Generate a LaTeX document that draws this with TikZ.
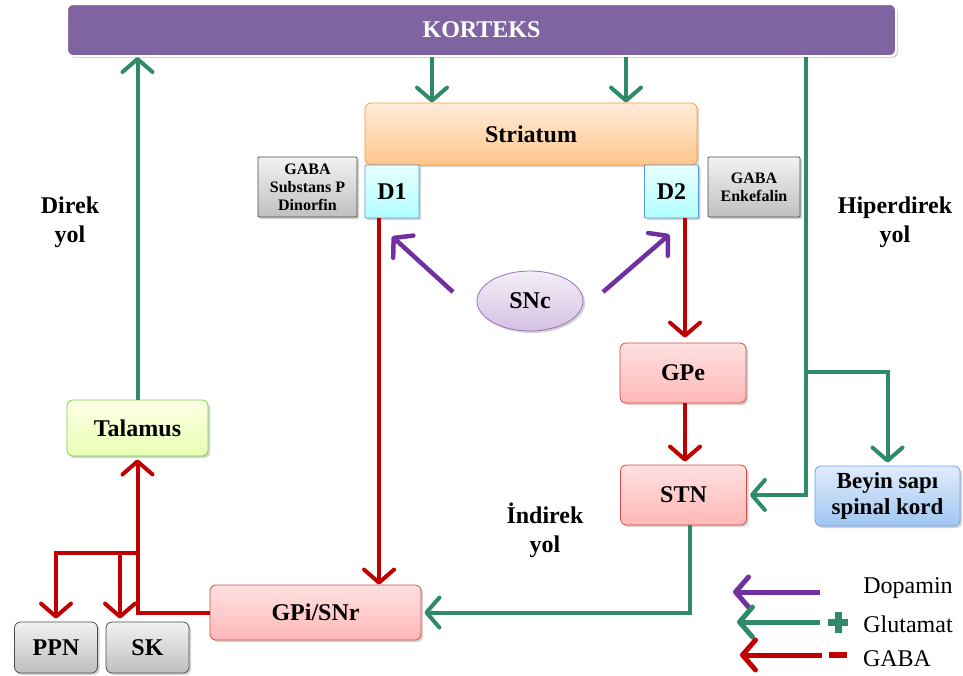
\documentclass[tikz,border=0pt]{standalone}
\usepackage{fontspec}
\setmainfont{Liberation Serif}
\usetikzlibrary{arrows.meta,shapes.geometric,shadows,calc}
\definecolor{kgreen}{RGB}{46,138,104}
\definecolor{kred}{RGB}{192,0,0}
\definecolor{kpurple}{RGB}{112,48,160}
\definecolor{kviolet}{RGB}{128,100,162}
\definecolor{bluetop}{RGB}{225,236,252}
\definecolor{bluebot}{RGB}{160,198,242}
\tikzset{
  tip/.style={-{Straight Barb[length=13pt,width=30pt,round]}},
  gline/.style={draw=kgreen,line width=4pt},
  rline/.style={draw=kred,line width=4pt},
  pline/.style={draw=kpurple,line width=4.5pt},
  box/.style={rounded corners=6pt,font=\bfseries\fontsize{24}{26}\selectfont,align=center,
     drop shadow={opacity=0.35,shadow xshift=2pt,shadow yshift=-2pt}},
  pinkbox/.style={box,draw=kred!70,line width=0.8pt,top color=red!12,bottom color=red!28,minimum width=126pt,minimum height=60pt},
  graybox/.style={box,draw=black!70,line width=0.8pt,top color=black!5,bottom color=black!25},
  smallgray/.style={graybox,rounded corners=1pt,font=\bfseries\fontsize{16}{18}\selectfont,minimum height=60pt},
  dbox/.style={box,rounded corners=1pt,draw=cyan!60!blue!70,line width=0.8pt,top color=cyan!10,bottom color=cyan!30,minimum width=54pt,minimum height=53pt},
  lbl/.style={font=\bfseries\fontsize{24}{29}\selectfont,align=center},
  legtext/.style={font=\fontsize{24}{26}\selectfont},
}
\begin{document}
\begin{tikzpicture}[x=1pt,y=-1pt]
\useasboundingbox (0,0) rectangle (963,675);
% nodes
\node[box,draw=white,line width=2pt,fill=kviolet,text=white,minimum width=829pt,minimum height=52pt] (korteks) at (481.5,30) {KORTEKS};
\node[box,draw=orange!80,line width=0.8pt,top color=orange!15,bottom color=orange!45,minimum width=332pt,minimum height=62pt] (striatum) at (531,134) {Striatum};
\node[dbox] (d1) at (392,191.5) {D1};
\node[dbox] (d2) at (671.5,191.5) {D2};
\node[smallgray,minimum width=99pt] (gabaa) at (307.5,187) {GABA\\Substans P\\Dinorfin};
\node[smallgray,minimum width=92pt] (gabab) at (754,187) {GABA\\Enkefalin};
\node[ellipse,draw=kpurple!70,line width=0.8pt,top color=kpurple!8,bottom color=kpurple!30,minimum width=106pt,minimum height=60pt,font=\bfseries\fontsize{24}{26}\selectfont,
  drop shadow={opacity=0.35,shadow xshift=2pt,shadow yshift=-2pt}] (snc) at (530,301) {SNc};
\node[pinkbox] (gpe) at (683,373) {GPe};
\node[pinkbox] (stn) at (683.5,495) {STN};
\node[pinkbox,minimum width=211pt,minimum height=55pt] (gpi) at (315.5,612.5) {GPi/SNr};
\node[box,draw=green!50!olive!70,line width=0.8pt,top color=green!5!yellow!10,bottom color=green!30!yellow!30,minimum width=141pt,minimum height=56pt] (talamus) at (137.5,428) {Talamus};
\node[box,draw=blue!60!cyan!60,line width=0.8pt,top color=bluetop,bottom color=bluebot,minimum width=145pt,minimum height=60pt,font=\bfseries\fontsize{23}{26}\selectfont] (beyin) at (887.5,496) {Beyin sap\i\\spinal kord};
\node[graybox,minimum width=83pt,minimum height=51pt] (ppn) at (56,647.5) {PPN};
\node[graybox,minimum width=83pt,minimum height=51pt] (sk) at (147.5,647.5) {SK};
% labels
\node[lbl] (direk) at (70,222) {Direk\\yol};
\node[lbl] (hiper) at (895,222) {Hiperdirek\\yol};
\node[lbl] (indirek) at (545,530) {\.Indirek\\yol};
% green connectors
\draw[gline,tip] (korteks.south -| 432,0) -- (striatum.north -| 432,0);
\draw[gline,tip] (korteks.south -| 626,0) -- (striatum.north -| 626,0);
\draw[gline,tip] (talamus.north) -- (korteks.south -| talamus.north);
\draw[gline,tip,shorten >=3pt] (korteks.south -| 806,0) |- (stn.east);
\coordinate (hb) at (806,372);
\draw[gline,tip,shorten >=3pt] (hb) -| (beyin.north);
\draw[gline,tip,shorten >=3pt] (stn.south -| 690,0) |- (gpi.east);
% red connectors
\draw[rline,tip] (d1.south -| 379,0) -- (gpi.north -| 379,0);
\draw[rline,tip,shorten >=5pt] (d2.south -| 685,0) -- (gpe.north -| 685,0);
\draw[rline,tip,shorten >=3pt] (gpe.south -| 685,0) -- (stn.north -| 685,0);
\draw[rline,tip,shorten >=3pt] (gpi.west) -| (talamus.south);
\coordinate (rb) at (137,553);
\draw[rline,tip,shorten >=3pt] (rb) -| (ppn.north);
\coordinate (rb2) at (120,553);
\draw[rline,tip,shorten >=3pt] (rb2) -- (sk.north -| rb2);
% purple connectors
\coordinate (s1) at ($(snc.center)+(-77,-9)$);
\coordinate (e1) at ($(d1.south)+(0,18)$);
\coordinate (s2) at ($(snc.center)+(73,-9)$);
\coordinate (e2) at ($(d2.south)+(-2,16)$);
\draw[pline,tip] (s1) -- (e1);
\draw[pline,tip] (s2) -- (e2);
% legend
\coordinate (lp) at (820,592);
\coordinate (lg) at (820,622);
\coordinate (lr) at (822,655);
\node[legtext] (tdop) at (908,588) {Dopamin};
\node[legtext] (tglu) at (908,624) {Glutamat};
\node[legtext] (tgaba) at (897,659) {GABA};
\draw[pline,line width=5pt,tip] (lp) -- (733,592);
\draw[gline,line width=5pt,tip] (lg) -- (737,622);
\draw[rline,line width=5pt,tip] (lr) -- (740,655);
\fill[kgreen] (828,619) rectangle (848,626);
\fill[kgreen] (834.5,612) rectangle (841.5,633);
\fill[kred] (829,652) rectangle (847,658);
\end{tikzpicture}
\end{document}
